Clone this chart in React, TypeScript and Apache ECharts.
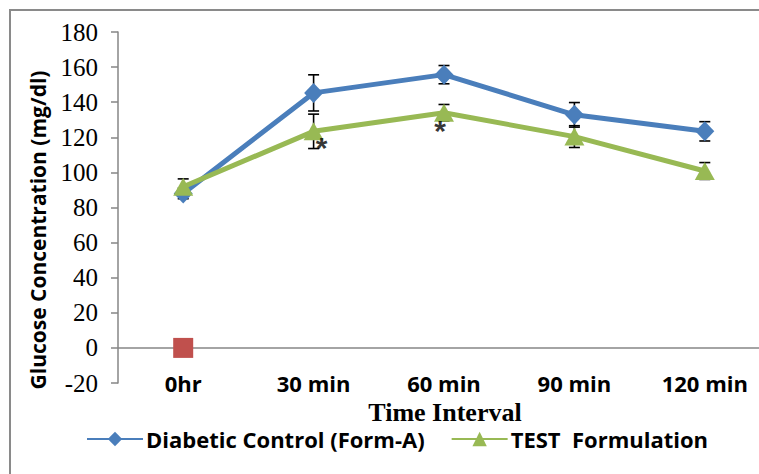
import React, { useEffect, useRef } from "react";
import * as echarts from "echarts";

const categories = ["0hr", "30 min", "60 min", "90 min", "120 min"];
const controlValues = [88, 145.3, 155.7, 132.8, 123.4];
const controlErrors = [3, 10.3, 5.2, 7, 5.5];
const testValues = [91.8, 123.4, 134, 120.4, 100.8];
const testErrors = [4.5, 9.8, 4.7, 6.2, 4.8];
const normalPoint = [[0, 0]];
const asteriskPoints = [
  { pos: [1, 117.8], dx: 8 },
  { pos: [2, 127.2], dx: -4 },
];
const yTicks = { min: -20, max: 180, interval: 20 };

const BLUE = "#4A7EBB";
const GREEN = "#98B954";
const RED = "#C0504D";
const GRAY = "#868686";

export default function App() {
  const ref = useRef<HTMLDivElement>(null);
  useEffect(() => {
    const chart = echarts.init(ref.current!, null, { renderer: "svg" });
    const errData: number[][] = [];
    controlValues.forEach((v, i) => errData.push([i, v - controlErrors[i], v + controlErrors[i]]));
    testValues.forEach((v, i) => errData.push([i, v - testErrors[i], v + testErrors[i]]));

    chart.setOption({
      animation: false,
      backgroundColor: "#ffffff",
      grid: { left: 118, top: 32, right: 1, height: 351 },
      legend: {
        left: 86,
        top: 428,
        padding: 0,
        itemWidth: 56,
        itemHeight: 18,
        itemGap: 26,
        data: ["Diabetic Control (Form-A)", "TEST  Formulation"],
        textStyle: {
          fontFamily: "Open Sans",
          fontWeight: "bold",
          fontSize: 22,
          color: "#000",
          padding: [0, 0, 0, -2],
        },
      },
      xAxis: {
        type: "category",
        data: categories,
        boundaryGap: true,
        axisLine: { show: false },
        axisTick: { show: false },
        axisLabel: {
          margin: 0,
          verticalAlign: "middle",
          fontFamily: "Open Sans",
          fontWeight: "bold",
          fontSize: 22,
          color: "#000",
        },
        splitLine: { show: false },
      },
      yAxis: {
        type: "value",
        min: yTicks.min,
        max: yTicks.max,
        interval: yTicks.interval,
        axisLine: { show: true, lineStyle: { color: GRAY, width: 1.5 } },
        axisTick: { show: true, length: 7, lineStyle: { color: GRAY, width: 1.5 } },
        axisLabel: {
          margin: 20,
          fontFamily: "Liberation Serif",
          fontSize: 25,
          color: "#000",
        },
        splitLine: { show: false },
      },
      graphic: [
        {
          type: "rect",
          shape: { x: 10, y: 10, width: 800, height: 520 },
          style: { fill: "none", stroke: "#8a8a8a", lineWidth: 2 },
          silent: true,
        },
        {
          type: "text",
          x: 38,
          y: 230,
          rotation: Math.PI / 2,
          style: {
            text: "Glucose Concentration (mg/dl)",
            font: "bold 21px 'Open Sans'",
            fill: "#000",
            textAlign: "center",
            textVerticalAlign: "middle",
          },
        },
        {
          type: "text",
          x: 445,
          y: 412,
          style: {
            text: "Time Interval",
            font: "bold 26px 'Liberation Serif'",
            fill: "#000",
            textAlign: "center",
            textVerticalAlign: "middle",
          },
        },
      ],
      series: [
        {
          name: "errors",
          type: "custom",
          z: 1,
          data: errData,
          renderItem: (params: any, api: any) => {
            const x = api.value(0);
            const lo = api.coord([x, api.value(1)]);
            const hi = api.coord([x, api.value(2)]);
            const cap = 5.5;
            const style = { stroke: "#000", lineWidth: 1.6 };
            return {
              type: "group",
              children: [
                { type: "line", shape: { x1: lo[0], y1: lo[1], x2: hi[0], y2: hi[1] }, style },
                { type: "line", shape: { x1: lo[0] - cap, y1: lo[1], x2: lo[0] + cap, y2: lo[1] }, style },
                { type: "line", shape: { x1: hi[0] - cap, y1: hi[1], x2: hi[0] + cap, y2: hi[1] }, style },
              ],
            };
          },
        },
        {
          name: "Normal",
          type: "scatter",
          z: 3,
          symbol: "rect",
          symbolSize: 20,
          itemStyle: { color: RED, opacity: 1 },
          data: normalPoint,
          markLine: {
            silent: true,
            symbol: "none",
            label: { show: false },
            lineStyle: { color: GRAY, width: 1.5, type: "solid" },
            data: [{ yAxis: 0 }],
            z: 1,
          },
        },
        {
          name: "Diabetic Control (Form-A)",
          type: "line",
          z: 3,
          data: controlValues,
          symbol: "diamond",
          symbolSize: [19, 20],
          lineStyle: { color: BLUE, width: 5 },
          itemStyle: { color: BLUE },
        },
        {
          name: "TEST  Formulation",
          type: "line",
          z: 4,
          data: testValues,
          symbol: "triangle",
          symbolSize: [20, 18],
          lineStyle: { color: GREEN, width: 5 },
          itemStyle: { color: GREEN },
        },
        {
          name: "sig",
          type: "scatter",
          z: 5,
          symbolSize: 1,
          itemStyle: { color: "rgba(0,0,0,0)" },
          data: asteriskPoints.map((a) => ({
            value: a.pos,
            label: { offset: [a.dx, 6] },
          })),
          label: {
            show: true,
            position: "inside",
            formatter: "*",
            fontFamily: "Liberation Sans",
            fontWeight: "bold",
            fontSize: 30,
            color: "#000",
          },
        },
      ],
    });
    return () => chart.dispose();
  }, []);
  return (
    <div style={{ position: "fixed", left: 0, top: 0, width: 759, height: 474, overflow: "hidden" }}>
      <div ref={ref} style={{ width: 771, height: 474 }} />
    </div>
  );
}
